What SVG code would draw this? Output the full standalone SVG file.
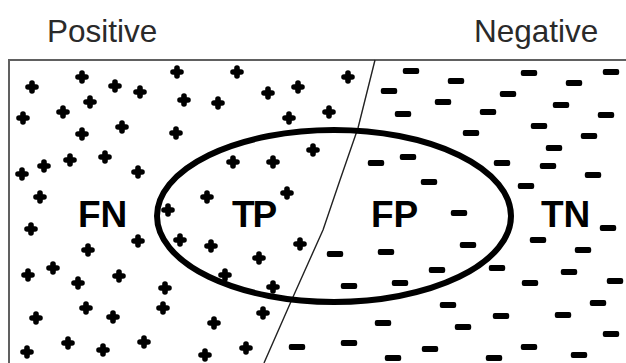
<svg xmlns="http://www.w3.org/2000/svg" xmlns:xlink="http://www.w3.org/1999/xlink" width="626" height="363" viewBox="0 0 626 363">
<style>
.hdr{font-family:"Liberation Sans",Arial,sans-serif;font-size:31.5px;fill:#2a2a2a}
.lbl{font-family:"Liberation Sans",Arial,sans-serif;font-size:37px;font-weight:bold;fill:#000}
.pl{stroke:#000;stroke-width:5.6;stroke-linecap:round;fill:none}
.mi{fill:#000}
</style>
<defs>
<path id="p" class="pl" d="M-4,0H4M0,-4V4"/>
<rect id="m" class="mi" x="-8.2" y="-3" width="16.4" height="6" rx="2"/>
</defs>
<rect width="626" height="363" fill="#fff"/>
<text class="hdr" x="47" y="42">Positive</text>
<text class="hdr" x="474" y="42">Negative</text>
<g id="frame"><path d="M9,363V60H626" fill="none" stroke="#606060" stroke-width="2"/></g>
<g id="positives">
<use href="#p" x="32" y="87"/><use href="#p" x="82" y="77"/><use href="#p" x="115" y="86"/><use href="#p" x="140" y="92"/><use href="#p" x="90" y="102"/><use href="#p" x="63" y="112"/><use href="#p" x="23" y="118"/><use href="#p" x="177" y="72"/><use href="#p" x="184" y="100"/><use href="#p" x="218" y="103"/><use href="#p" x="237" y="72"/><use href="#p" x="268" y="93"/><use href="#p" x="298" y="87"/><use href="#p" x="289" y="118"/><use href="#p" x="82" y="134"/><use href="#p" x="122" y="127"/><use href="#p" x="176" y="133"/><use href="#p" x="313" y="150"/><use href="#p" x="233" y="162"/><use href="#p" x="273" y="162"/><use href="#p" x="22" y="174"/><use href="#p" x="44" y="166"/><use href="#p" x="70" y="160"/><use href="#p" x="105" y="157"/><use href="#p" x="138" y="172"/>
<use href="#p" x="348" y="77"/><use href="#p" x="329" y="112"/>
<use href="#p" x="40" y="197"/><use href="#p" x="31" y="229"/><use href="#p" x="168" y="210"/><use href="#p" x="207" y="197"/><use href="#p" x="287" y="193"/><use href="#p" x="138" y="241"/><use href="#p" x="180" y="240"/><use href="#p" x="211" y="246"/><use href="#p" x="88" y="250"/><use href="#p" x="300" y="244"/><use href="#p" x="259" y="258"/><use href="#p" x="28" y="275"/><use href="#p" x="53" y="268"/><use href="#p" x="78" y="283"/><use href="#p" x="119" y="276"/><use href="#p" x="225" y="275"/><use href="#p" x="165" y="288"/><use href="#p" x="273" y="287"/><use href="#p" x="86" y="308"/><use href="#p" x="113" y="317"/><use href="#p" x="163" y="308"/><use href="#p" x="36" y="318"/><use href="#p" x="263" y="313"/><use href="#p" x="214" y="323"/><use href="#p" x="27" y="352"/><use href="#p" x="68" y="343"/><use href="#p" x="103" y="350"/><use href="#p" x="144" y="342"/><use href="#p" x="205" y="355"/><use href="#p" x="246" y="348"/>
</g>
<g id="negatives">
<use href="#m" x="411" y="71"/><use href="#m" x="456" y="81"/><use href="#m" x="389" y="91"/><use href="#m" x="443" y="102"/><use href="#m" x="403" y="114"/><use href="#m" x="529" y="73"/><use href="#m" x="508" y="94"/><use href="#m" x="574" y="83"/><use href="#m" x="611" y="72"/><use href="#m" x="561" y="105"/><use href="#m" x="488" y="112"/><use href="#m" x="606" y="115"/><use href="#m" x="539" y="126"/><use href="#m" x="471" y="133"/><use href="#m" x="589" y="136"/><use href="#m" x="554" y="148"/><use href="#m" x="408" y="157"/><use href="#m" x="376" y="163"/><use href="#m" x="502" y="163"/><use href="#m" x="548" y="166"/><use href="#m" x="593" y="175"/>
<use href="#m" x="429" y="182"/><use href="#m" x="526" y="186"/><use href="#m" x="459" y="213"/><use href="#m" x="608" y="228"/><use href="#m" x="468" y="245"/><use href="#m" x="538" y="240"/><use href="#m" x="583" y="250"/><use href="#m" x="335" y="254"/><use href="#m" x="386" y="252"/><use href="#m" x="437" y="270"/><use href="#m" x="497" y="268"/><use href="#m" x="569" y="272"/><use href="#m" x="615" y="281"/><use href="#m" x="349" y="286"/><use href="#m" x="400" y="283"/><use href="#m" x="530" y="283"/><use href="#m" x="598" y="303"/><use href="#m" x="448" y="305"/><use href="#m" x="501" y="316"/><use href="#m" x="563" y="315"/><use href="#m" x="383" y="323"/><use href="#m" x="463" y="327"/><use href="#m" x="611" y="334"/><use href="#m" x="349" y="343"/><use href="#m" x="430" y="349"/><use href="#m" x="529" y="347"/><use href="#m" x="393" y="358"/><use href="#m" x="494" y="358"/><use href="#m" x="579" y="355"/><use href="#m" x="297" y="347"/>
</g>
<g id="boundary"><polyline points="375,60 358,128 340,180 323,230 293,297 264,363" fill="none" stroke="#222" stroke-width="1.4" stroke-linejoin="round"/></g>
<g id="selection"><ellipse cx="334" cy="216" rx="177" ry="86" fill="none" stroke="#000" stroke-width="6"/></g>
<g id="labels">
<text class="lbl" x="78" y="227">FN</text>
<text class="lbl" x="232" y="227" letter-spacing="-2">TP</text>
<text class="lbl" x="371" y="227">FP</text>
<text class="lbl" x="541" y="227">TN</text>
</g>
</svg>
